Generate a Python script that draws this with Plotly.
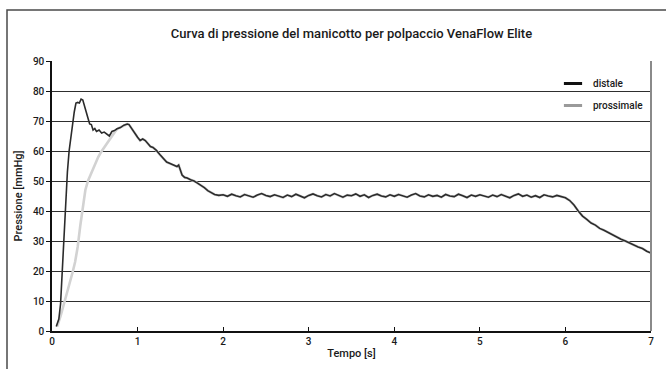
import plotly.graph_objects as go

# Cuff pressure over time, distal and proximal chambers
distale_t = [0.05, 0.06, 0.08, 0.10, 0.12, 0.14, 0.16, 0.18, 0.20, 0.22, 0.24, 0.26, 0.28, 0.30,
             0.32, 0.34, 0.36, 0.38, 0.40, 0.42, 0.44, 0.46, 0.48, 0.50, 0.52, 0.55, 0.58, 0.61,
             0.64, 0.67, 0.70, 0.73, 0.76, 0.80, 0.84, 0.88, 0.90, 0.93, 0.96, 1.00, 1.03, 1.06,
             1.09, 1.12, 1.15, 1.18, 1.22, 1.26, 1.30, 1.34, 1.38, 1.42, 1.46, 1.48, 1.50, 1.52,
             1.55, 1.58, 1.62, 1.66, 1.70, 1.74, 1.78, 1.82, 1.86, 1.90, 1.95,
             2.00, 2.05, 2.10, 2.15, 2.20, 2.25, 2.30, 2.35, 2.40, 2.45, 2.50, 2.55, 2.60, 2.65,
             2.70, 2.75, 2.80, 2.85, 2.90, 2.95, 3.00, 3.05, 3.10, 3.15, 3.20, 3.25, 3.30, 3.35,
             3.40, 3.45, 3.50, 3.55, 3.60, 3.65, 3.70, 3.75, 3.80, 3.85, 3.90, 3.95, 4.00, 4.05,
             4.10, 4.15, 4.20, 4.25, 4.30, 4.35, 4.40, 4.45, 4.50, 4.55, 4.60, 4.65, 4.70, 4.75,
             4.80, 4.85, 4.90, 4.95, 5.00, 5.05, 5.10, 5.15, 5.20, 5.25, 5.30, 5.35, 5.40, 5.45,
             5.50, 5.55, 5.60, 5.65, 5.70, 5.75, 5.80, 5.85, 5.90, 5.95, 6.00,
             6.05, 6.10, 6.15, 6.20, 6.25, 6.30, 6.35, 6.40, 6.45, 6.50, 6.55, 6.60, 6.65, 6.70,
             6.75, 6.80, 6.85, 6.90, 6.95, 7.00]
distale_v = [1.5, 2.2, 4.0, 9.0, 20.0, 34.0, 45.0, 53.0, 60.0, 65.0, 69.0, 73.0, 76.0, 76.2,
             76.0, 77.3, 77.0, 74.5, 73.0, 71.0, 69.0, 68.8, 67.0, 67.5, 66.5, 67.0, 66.0, 66.3,
             65.5, 65.0, 66.5, 66.8, 67.4, 67.8, 68.6, 69.0, 68.8, 67.5, 66.0, 64.6, 63.5, 64.0,
             63.5, 62.5, 61.5, 61.2, 60.2, 58.8, 57.5, 56.3, 55.8, 55.2, 54.8, 55.3, 53.5, 52.0,
             51.2, 51.0, 50.4, 50.0, 49.3, 48.6, 47.8, 46.8, 46.0, 45.5, 45.2,
             45.4, 44.9, 45.6, 45.1, 44.7, 45.5, 45.0, 44.6, 45.3, 45.8, 45.2, 44.8, 45.4, 44.9,
             44.5, 45.3, 44.8, 45.6, 45.0, 44.4, 45.2, 45.7, 45.1, 44.7, 45.5, 45.0, 45.8, 45.2,
             44.6, 45.3, 45.1, 45.7, 44.9, 45.4, 44.5, 45.2, 45.6, 45.0, 44.7, 45.4, 44.9, 45.5,
             45.1, 44.6, 45.3, 45.8, 45.0, 44.7, 45.4, 44.9, 45.2, 44.6, 45.5, 45.0, 44.8, 45.6,
             45.1, 44.5, 45.3, 44.9, 45.4, 45.0, 44.6, 45.3, 44.8, 45.5, 45.0, 44.4, 45.2, 45.7,
             44.9, 45.3, 44.6, 45.1, 44.5, 45.4, 45.0, 44.7, 45.2, 44.8, 44.4,
             43.5, 42.0, 40.0, 38.3, 37.2, 36.0, 35.3, 34.2, 33.6, 32.8, 32.2, 31.2, 30.6, 30.0,
             29.3, 28.7, 28.0, 27.5, 26.6, 26.0]

# Proximal chamber fills more slowly, then tracks the distal curve from ~0.88 s
prossimale_rise_t = [0.06, 0.08, 0.10, 0.12, 0.15, 0.18, 0.21, 0.24, 0.27, 0.30, 0.33, 0.36,
                     0.39, 0.42, 0.45, 0.48, 0.51, 0.54, 0.57, 0.60, 0.63, 0.66, 0.69, 0.72,
                     0.75, 0.78, 0.82, 0.86]
prossimale_rise_v = [1.5, 3.0, 5.0, 7.0, 10.0, 13.5, 16.5, 19.5, 23.0, 28.0, 35.0, 42.0,
                     47.0, 50.0, 52.0, 54.5, 56.5, 58.0, 59.5, 60.8, 62.0, 63.3, 64.8, 66.0,
                     67.0, 67.6, 68.2, 68.8]
merge_t = 0.88

x_ticks = [0, 1, 2, 3, 4, 5, 6, 7]
y_ticks = [0, 10, 20, 30, 40, 50, 60, 70, 80, 90]

shared = [(t, v) for t, v in zip(distale_t, distale_v) if t >= merge_t]
prossimale_t = prossimale_rise_t + [t for t, _ in shared]
prossimale_v = prossimale_rise_v + [v for _, v in shared]

FONT = "Roboto"
fig = go.Figure()

fig.add_trace(go.Scatter(x=prossimale_t, y=prossimale_v, mode="lines",
                         line=dict(color="#d2d2d2", width=2.6), showlegend=False,
                         hoverinfo="skip"))
fig.add_trace(go.Scatter(x=distale_t, y=distale_v, mode="lines",
                         line=dict(color="#2b2b2b", width=1.6), showlegend=False))

# legend entries as short bar swatches
fig.add_trace(go.Scatter(x=[None], y=[None], mode="markers", name="distale",
                         legendgroup="d",
                         marker=dict(symbol="line-ew", size=13,
                                     line=dict(color="#111111", width=3))))
fig.add_trace(go.Scatter(x=[None], y=[None], mode="markers", name="prossimale",
                         legendgroup="p",
                         marker=dict(symbol="line-ew", size=13,
                                     line=dict(color="#9a9a9a", width=3))))

L, R, T, B = 52, 15, 61, 38
W, H = 666, 369
pw, ph = W - L - R, H - T - B

def px(xpix):
    return (xpix - L) / pw

def py(ypix):
    return (H - B - ypix) / ph

fig.update_layout(
    width=W, height=H,
    margin=dict(l=L, r=R, t=T, b=B),
    paper_bgcolor="white", plot_bgcolor="white",
    font=dict(family=FONT, color="#1a1a1a", size=10),
    title=dict(text="Curva di pressione del manicotto per polpaccio VenaFlow Elite",
               x=0.5, xref="paper", y=1 - 33 / H, yanchor="middle",
               font=dict(size=13, color="#1a1a1a", family=FONT, weight=500)),
    showlegend=True,
    legend=dict(x=px(553), y=py(69), xanchor="left", yanchor="top",
                bgcolor="rgba(0,0,0,0)", borderwidth=0,
                traceorder="grouped", tracegroupgap=3,
                font=dict(size=10, family=FONT, color="#1a1a1a", weight=500)),
    xaxis=dict(range=[0, 7], tickvals=x_ticks, ticks="inside", ticklen=4,
               tickcolor="#111", tickwidth=1.2,
               showline=True, linecolor="#111", linewidth=1.5,
               showgrid=False, zeroline=False,
               tickfont=dict(size=10, family=FONT, weight=500),
               title=dict(text="Tempo [s]", standoff=4,
                          font=dict(size=11, family=FONT, weight=500))),
    yaxis=dict(range=[0, 90], tickvals=y_ticks, ticks="outside", ticklen=4,
               tickcolor="#111", tickwidth=1.2,
               showline=True, linecolor="#111", linewidth=1.5,
               showgrid=True, gridcolor="#2e2e2e", gridwidth=1.3,
               zeroline=False,
               tickfont=dict(size=10, family=FONT, weight=500),
               title=dict(text="Pressione [mmHg]", standoff=8,
                          font=dict(size=11, family=FONT, weight=500))),
    shapes=[
        # right border of the plotting area
        dict(type="line", xref="paper", yref="paper", x0=1, x1=1, y0=0, y1=1,
             line=dict(color="#8a8a8a", width=2)),
        # outer frame around the figure
        dict(type="rect", xref="paper", yref="paper",
             x0=px(7), x1=px(700), y0=py(400), y1=py(10),
             line=dict(color="#4a4a4a", width=1.5), fillcolor="rgba(0,0,0,0)"),
    ],
)

fig.write_html("out.html")
